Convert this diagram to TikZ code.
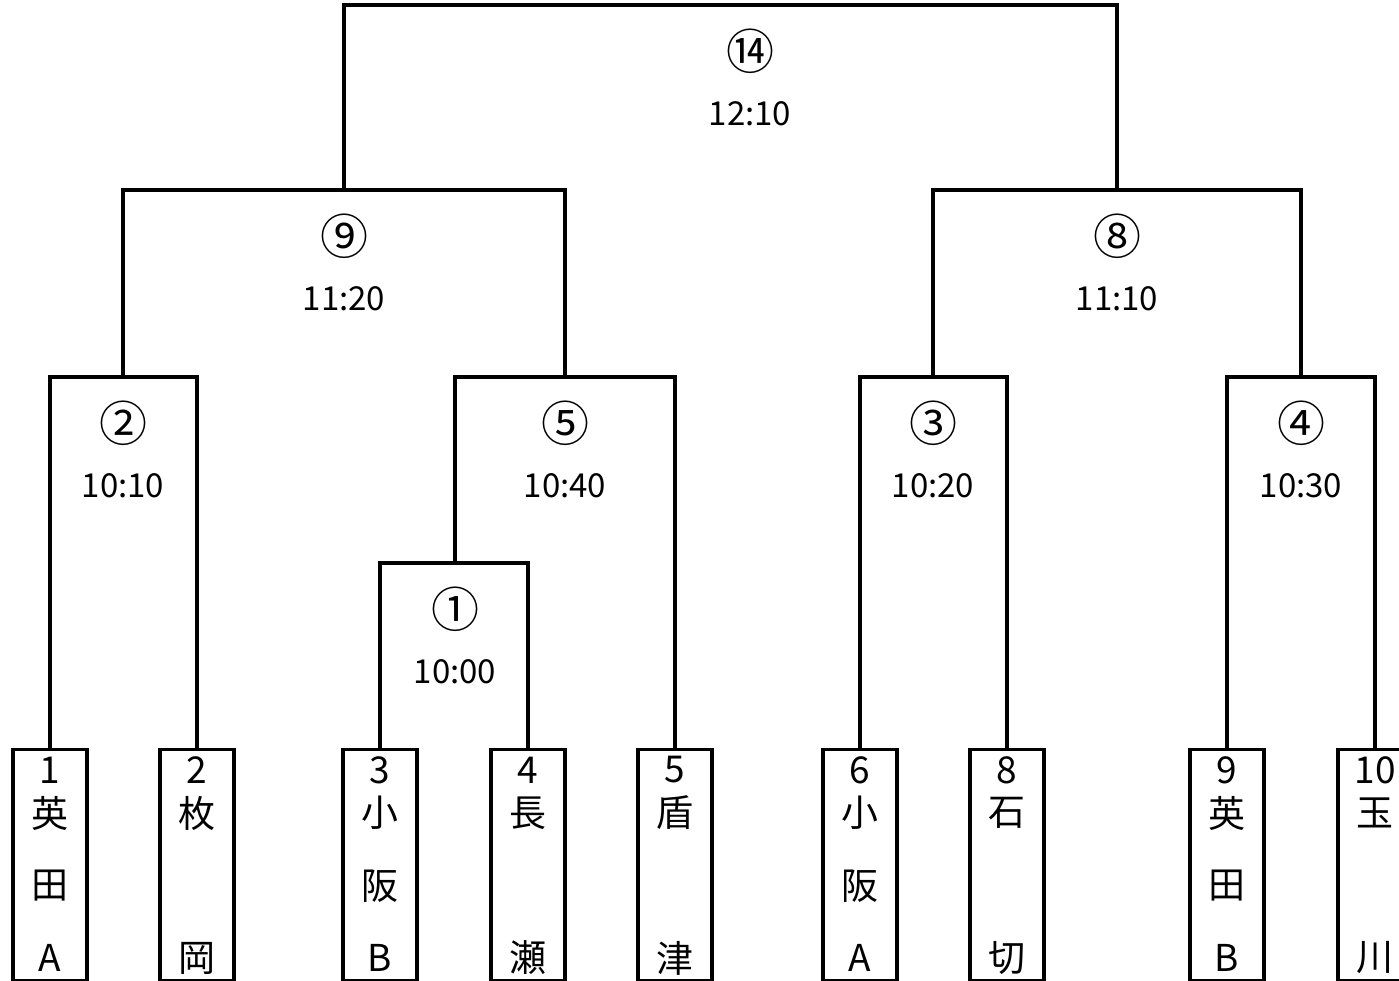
\documentclass[tikz,border=0pt]{standalone}
\usepackage{fontspec}
\setmainfont{Noto Sans CJK JP}
\usetikzlibrary{positioning}

\begin{document}
\begin{tikzpicture}[x=1pt, y=-1pt, line width=3.2pt, every node/.style={inner sep=0pt}]
  \tikzset{
    team/.style={draw, minimum width=74pt, minimum height=231pt, anchor=north},
    teamtext/.style={font=\fontsize{37}{37}\selectfont},
    matchno/.style={font=\fontsize{48}{48}\selectfont},
    matchtime/.style={font=\fontsize{33}{33}\selectfont}
  }
  \useasboundingbox (0,0) rectangle (1399,981);
  % Team boxes along the bottom
  \foreach \tx/\tn/\ta/\tb/\tc in {50/1/英/田/A, 197/2/枚//岡, 380/3/小/阪/B,
      528/4/長//瀬, 675/5/盾//津, 860/6/小/阪/A, 1007/8/石//切,
      1227/9/英/田/B, 1375/10/玉//川} {
    \node[team] (t\tn) at (\tx,748) {};
    \node[teamtext] at (\tx,770) {\tn};
    \node[teamtext] at (\tx,813) {\ta};
    \node[teamtext] at (\tx,886) {\tb};
    \node[teamtext] at (\tx,958) {\tc};
  }
  % Match numbers and start times
  \foreach \mx/\my/\mn/\mc/\mt in {123/377/2/②/10:10, 455/563/1/①/10:00,
      565/377/5/⑤/10:40, 344/190/9/⑨/11:20, 933/377/3/③/10:20,
      1301/377/4/④/10:30, 1117/190/8/⑧/11:10, 750/5/14/⑭/12:10} {
    \coordinate (j\mn) at (\mx,\my);
    \node[matchno] (m\mn) at (\mx,\my+46) {\mc};
    \node[matchtime] (s\mn) at (\mx,\my+109) {\mt};
  }
  % First round
  \draw (t1.north) |- (j2) -| (t2.north);
  \draw (t3.north) |- (j1) -| (t4.north);
  \draw (t6.north) |- (j3) -| (t8.north);
  \draw (t9.north) |- (j4) -| (t10.north);
  % Later rounds
  \draw (j1) |- (j5) -| (t5.north);
  \draw (j2) |- (j9) -| (j5);
  \draw (j3) |- (j8) -| (j4);
  \draw (j9) |- (j14) -| (j8);
\end{tikzpicture}
\end{document}
